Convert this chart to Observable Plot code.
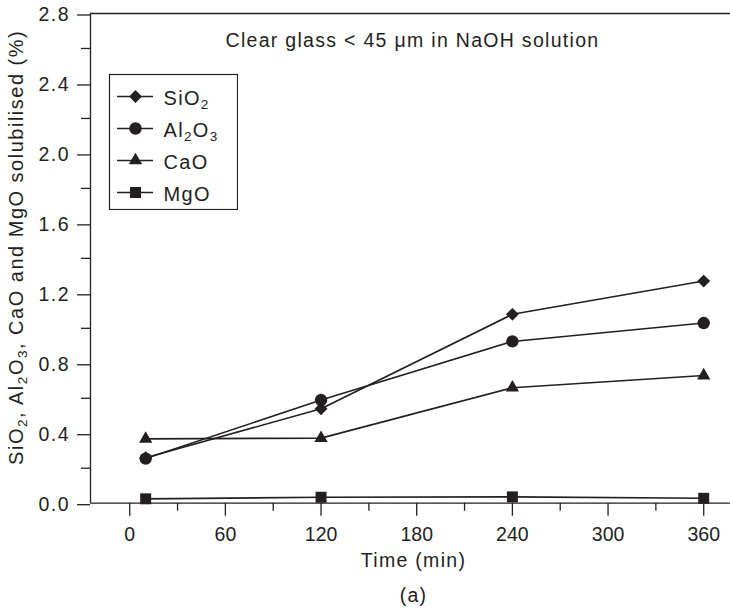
<!DOCTYPE html>
<html><head><meta charset="utf-8">
<script src="https://cdn.jsdelivr.net/npm/d3@7"></script>
<script src="https://cdn.jsdelivr.net/npm/@observablehq/plot@0.6"></script>
<style>
body{margin:0;background:#fff;}
#wrap{position:relative;width:730px;height:610px;overflow:hidden;}
#legend{position:absolute;left:108px;top:73px;}
</style></head><body><div id="wrap"><div id="main"></div><div id="legend"></div></div>
<script>
// ---- data ----
const times = [10, 120, 240, 360];
const seriesNames = ["SiO2", "Al2O3", "CaO", "MgO"];
const SiO2 = [0.26, 0.54, 1.08, 1.27];
const Al2O3 = [0.255, 0.59, 0.925, 1.03];
const CaO = [0.368, 0.372, 0.66, 0.73];
const MgO = [0.025, 0.034, 0.036, 0.028];
const symbols = ["diamond2", "circle", "triangle", "square"];
const symbolR = [5.8, 6.2, 4.95, 6.2];
const xTicks = [0, 60, 120, 180, 240, 300, 360];
const xMinorTicks = [30, 90, 150, 210, 270, 330];
const yTicks = [0, 0.4, 0.8, 1.2, 1.6, 2.0, 2.4, 2.8];
const yMinorTicks = [0.2, 0.6, 1.0, 1.4, 1.8, 2.2, 2.6];
const xDomain = [-24.6, 376.8];
const yDomain = [0, 2.8];
const titleText = "Clear glass < 45 \u03bcm in NaOH solution";
const xLabel = "Time (min)";
const yLabel = "SiO2, Al2O3, CaO and MgO solubilised (%)";
const captionText = "(a)";

const values = [SiO2, Al2O3, CaO, MgO];
const data = seriesNames.flatMap((s, i) => times.map((t, j) => ({series: s, time: t, value: values[i][j]})));

const ink = "#231f20";
const font = "'Liberation Sans', Arial, Helvetica, sans-serif";
const yFmt = d3.format(".1f");

const main = Plot.plot({
  width: 730, height: 610,
  marginLeft: 90, marginRight: 0, marginTop: 13, marginBottom: 107.3,
  x: {domain: xDomain},
  y: {domain: yDomain},
  style: {fontFamily: font, fontSize: "19.5px", color: ink, background: "#fff"},
  marks: [
    Plot.axisX({ticks: xTicks, tickSize: 13, tickPadding: 11, tickFormat: d => String(d), label: null, strokeWidth: 1.3, fontSize: 19.5}),
    Plot.axisX({ticks: xMinorTicks, tickSize: 8, tickFormat: () => "", label: null, strokeWidth: 1.3}),
    Plot.axisY({ticks: yTicks, tickSize: 13, tickPadding: 7.5, tickFormat: yFmt, label: null, strokeWidth: 1.3, dy: 1.5, fontSize: 19.5}),
    Plot.axisY({ticks: yMinorTicks, tickSize: 9, tickFormat: () => "", label: null, strokeWidth: 1.3}),
    Plot.ruleY([yDomain[0]], {stroke: ink, strokeWidth: 1.3}),
    Plot.ruleY([yDomain[1]], {stroke: ink, strokeWidth: 1.3}),
    Plot.ruleX([xDomain[0]], {stroke: ink, strokeWidth: 1.3}),
    Plot.line(data, {x: "time", y: "value", z: "series", stroke: ink, strokeWidth: 1.6}),
    ...seriesNames.map((s, i) => Plot.dot(data.filter(d => d.series === s), {
      x: "time", y: "value", symbol: symbols[i], r: symbolR[i], fill: ink, stroke: "none"
    })),
    Plot.text([titleText], {text: d => d, frameAnchor: "top", lineAnchor: "top", dy: 20, dx: 2, fontSize: 19.5}),
    Plot.text([xLabel], {text: d => d, frameAnchor: "bottom", lineAnchor: "top", dy: 50, dx: 3, fontSize: 19.5}),
    Plot.text([captionText], {text: d => d, frameAnchor: "bottom", lineAnchor: "top", dy: 85, dx: 3, fontSize: 19.5}),
    Plot.text([yLabel], {text: d => d, frameAnchor: "left", textAnchor: "middle", rotate: -90, lineAnchor: "middle", dx: -74, dy: -11, fontSize: 20})
  ]
});
document.getElementById("main").appendChild(main);

const legend = Plot.plot({
  width: 130, height: 137, margin: 1,
  y: {type: "point", domain: seriesNames, range: [22, 119], padding: 0},
  axis: null,
  style: {fontFamily: font, fontSize: "20px", color: ink, background: "transparent"},
  marks: [
    Plot.frame({stroke: ink, strokeWidth: 1.2, fill: "#fff"}),
    Plot.ruleY(seriesNames, {y: d => d, insetLeft: 8, insetRight: 84, stroke: ink, strokeWidth: 1.6}),
    ...seriesNames.map((s, i) => Plot.dot([s], {y: d => d, frameAnchor: "left", dx: 26, symbol: symbols[i], r: symbolR[i], fill: ink, stroke: "none"})),
    Plot.text(seriesNames, {y: d => d, text: d => d, frameAnchor: "left", dx: 54, dy: 2, textAnchor: "start", fontSize: 20})
  ]
});
document.getElementById("legend").appendChild(legend);

// subscripts for chemical formulas, letter spacing for words
function subscriptify(el) {
  const txt = el.textContent;
  if (!/[A-Za-z]\d/.test(txt)) return;
  el.textContent = "";
  const parts = txt.split(/(?<=[A-Za-z])(\d)/);
  parts.forEach(p => {
    if (p === "") return;
    const t = document.createElementNS("http://www.w3.org/2000/svg", "tspan");
    t.textContent = p;
    if (/^\d$/.test(p)) {
      t.setAttribute("font-size", "0.68em");
      t.setAttribute("baseline-shift", "-4");
    }
    el.appendChild(t);
  });
}
const wordTexts = new Set([titleText, xLabel, yLabel, captionText, ...seriesNames]);
const yTickTexts = new Set(yTicks.map(yFmt));
[main, legend].forEach(svg => {
  d3.select(svg).selectAll("text").each(function() {
    const c = this.textContent;
    if (wordTexts.has(c)) {
      this.style.letterSpacing = c === yLabel ? "1.5px" : "1.3px";
      subscriptify(this);
    } else if (yTickTexts.has(c)) {
      this.style.letterSpacing = "1.5px";
    }
  });
});
</script></body></html>
